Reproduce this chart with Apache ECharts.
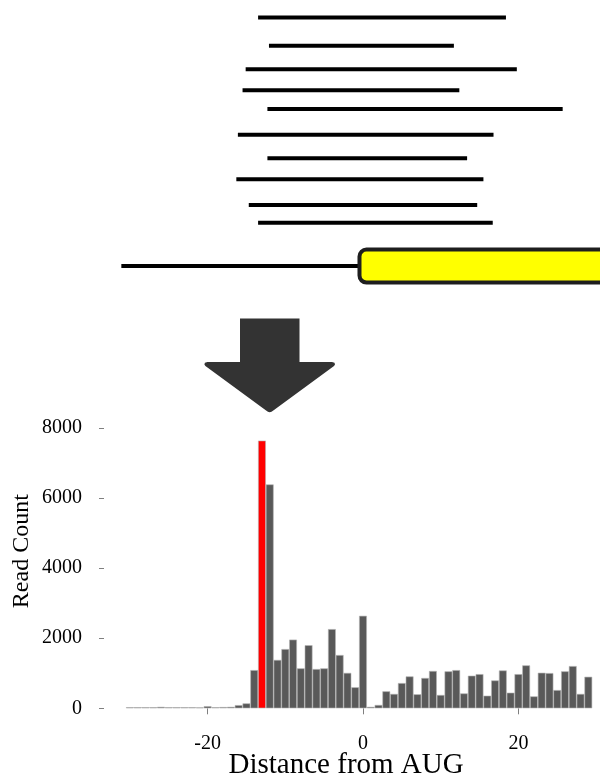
<!DOCTYPE html>
<html>
<head>
<meta charset="utf-8">
<title>Ribosome footprint reads around the start codon</title>
<script src="https://cdn.jsdelivr.net/npm/echarts@6/dist/echarts.min.js"></script>
<style>
  html, body { margin: 0; padding: 0; background: #ffffff; }
  #chart { width: 600px; height: 775px; }
</style>
</head>
<body>
<div id="chart"></div>
<script>
// Nucleotide positions relative to the AUG start codon
const positions = [
  -30, -29, -28, -27, -26, -25, -24, -23, -22, -21,
  -20, -19, -18, -17, -16, -15, -14, -13, -12, -11,
  -10, -9, -8, -7, -6, -5, -4, -3, -2, -1,
  0, 1, 2, 3, 4, 5, 6, 7, 8, 9,
  10, 11, 12, 13, 14, 15, 16, 17, 18, 19,
  20, 21, 22, 23, 24, 25, 26, 27, 28, 29
];

// Read 5' end counts at each position
const readCounts = [
  30, 30, 30, 30, 40, 30, 30, 30, 30, 25,
  60, 30, 35, 40, 90, 140, 1090, 7640, 6390, 1380,
  1690, 1960, 1140, 1800, 1120, 1140, 2260, 1520, 1010, 600,
  2640, 40, 95, 485, 410, 720, 910, 400, 865, 1065,
  380, 1055, 1090, 425, 930, 975, 360, 795, 1080, 445,
  975, 1225, 340, 1015, 1005, 520, 1055, 1205, 410, 900
];

// Position whose reads are highlighted
const highlightPosition = -13;

// Individual aligned reads: start, end (nt from AUG) and stacking lane
const readStarts = [-13.5, -12.1, -15.1, -15.5, -12.3, -16.1, -12.3, -16.3, -14.7, -13.5];
const readEnds   = [18.4, 11.7, 19.8, 12.4, 25.7, 16.8, 13.4, 15.5, 14.7, 16.7];
const readLanes  = [0, 1.2, 2.2, 3.1, 3.9, 5.0, 6.0, 6.9, 8.0, 8.75];

// Transcript: 5' UTR start, coding sequence start/end, lane
const transcript = { utrStart: -31.1, cdsStart: -0.45, cdsEnd: 45, lane: 10.6 };

// Tick labels on the position axis
const xTickLabels = [-20, 0, 20];

const serif = "'Liberation Serif', 'DejaVu Serif', serif";

const chart = echarts.init(document.getElementById('chart'), null, { renderer: 'canvas' });

const readData = readStarts.map((s, i) => [s, readEnds[i], readLanes[i]]);

const option = {
  animation: false,
  backgroundColor: '#ffffff',
  grid: [
    { left: 126, width: 466.2, top: 428, height: 280.3, outerBoundsMode: 'none', containLabel: false },
    { left: 126, width: 466.2, top: 0, height: 300, outerBoundsMode: 'none', containLabel: false }
  ],
  xAxis: [
    {
      type: 'category',
      gridIndex: 0,
      data: positions.map(String),
      boundaryGap: true,
      offset: 17,
      axisLine: { show: false },
      axisTick: {
        show: true,
        alignWithLabel: true,
        length: 6,
        lineStyle: { color: '#7f7f7f', width: 1 }
      },
      axisLabel: {
        interval: (idx, val) => xTickLabels.indexOf(Number(val)) !== -1,
        fontFamily: serif,
        fontSize: 20,
        color: '#000000',
        margin: 8
      },
      splitLine: { show: false },
      name: 'Distance from AUG',
      nameLocation: 'middle',
      nameGap: 26,
      nameMoveOverlap: false,
      nameTextStyle: {
        fontFamily: serif,
        fontSize: 29,
        color: '#000000',
        padding: [0, 26, 0, 0]
      }
    },
    {
      type: 'value',
      gridIndex: 1,
      min: -30.5,
      max: 29.5,
      show: false
    }
  ],
  yAxis: [
    {
      type: 'value',
      gridIndex: 0,
      min: 0,
      max: 8000,
      interval: 2000,
      offset: 22,
      axisLine: { show: false },
      axisTick: { show: true, length: 5, lineStyle: { color: '#7f7f7f', width: 1 } },
      axisLabel: {
        fontFamily: serif,
        fontSize: 20,
        color: '#000000',
        margin: 22,
        formatter: (v) => String(v)
      },
      splitLine: { show: false },
      name: 'Read Count',
      nameLocation: 'middle',
      nameGap: 70,
      nameMoveOverlap: false,
      nameRotate: 90,
      nameTextStyle: {
        fontFamily: serif,
        fontSize: 24,
        color: '#000000',
        padding: [0, 0, 0, 34]
      }
    },
    {
      type: 'value',
      gridIndex: 1,
      inverse: true,
      min: -0.75,
      max: 12.05,
      show: false
    }
  ],
  series: [
    {
      type: 'bar',
      xAxisIndex: 0,
      yAxisIndex: 0,
      barWidth: '100%',
      barCategoryGap: '0%',
      data: readCounts.map((v, i) => ({
        value: v,
        itemStyle: {
          color: positions[i] === highlightPosition ? '#ff0000' : '#595959'
        }
      })),
      itemStyle: { borderColor: '#b4b4b4', borderWidth: 0.6 }
    },
    {
      // aligned reads
      type: 'custom',
      xAxisIndex: 1,
      yAxisIndex: 1,
      clip: false,
      data: readData,
      renderItem: (params, api) => {
        const a = api.coord([api.value(0), api.value(2)]);
        const b = api.coord([api.value(1), api.value(2)]);
        return {
          type: 'line',
          shape: { x1: a[0], y1: a[1], x2: b[0], y2: b[1] },
          style: { stroke: '#000000', lineWidth: 4, lineCap: 'butt' }
        };
      }
    },
    {
      // transcript: UTR line and coding sequence box
      type: 'custom',
      xAxisIndex: 1,
      yAxisIndex: 1,
      clip: false,
      data: [[transcript.utrStart, transcript.cdsStart, transcript.cdsEnd, transcript.lane]],
      renderItem: (params, api) => {
        const u = api.coord([api.value(0), api.value(3)]);
        const c = api.coord([api.value(1), api.value(3)]);
        const e = api.coord([api.value(2), api.value(3)]);
        const half = 16.5;
        return {
          type: 'group',
          children: [
            {
              type: 'line',
              shape: { x1: u[0], y1: u[1], x2: c[0], y2: c[1] },
              style: { stroke: '#000000', lineWidth: 4 }
            },
            {
              type: 'rect',
              shape: { x: c[0], y: c[1] - half, width: e[0] - c[0], height: half * 2, r: [7, 0, 0, 7] },
              style: { fill: '#ffff00', stroke: '#1e1e1e', lineWidth: 4 }
            }
          ]
        };
      }
    }
  ],
  graphic: [
    {
      // down arrow between the read diagram and the histogram
      type: 'polygon',
      shape: {
        points: [
          [240, 318.5], [299.5, 318.5], [299.5, 362],
          [332, 362], [334.5, 362.8], [335, 364.5], [334, 366],
          [274, 410], [271.5, 411.8], [269.7, 412.3], [267.9, 411.8], [265.4, 410],
          [205.4, 366], [204.4, 364.5], [204.9, 362.8], [207.4, 362],
          [240, 362]
        ]
      },
      style: { fill: '#333333' }
    }
  ]
};

chart.setOption(option);
</script>
</body>
</html>
